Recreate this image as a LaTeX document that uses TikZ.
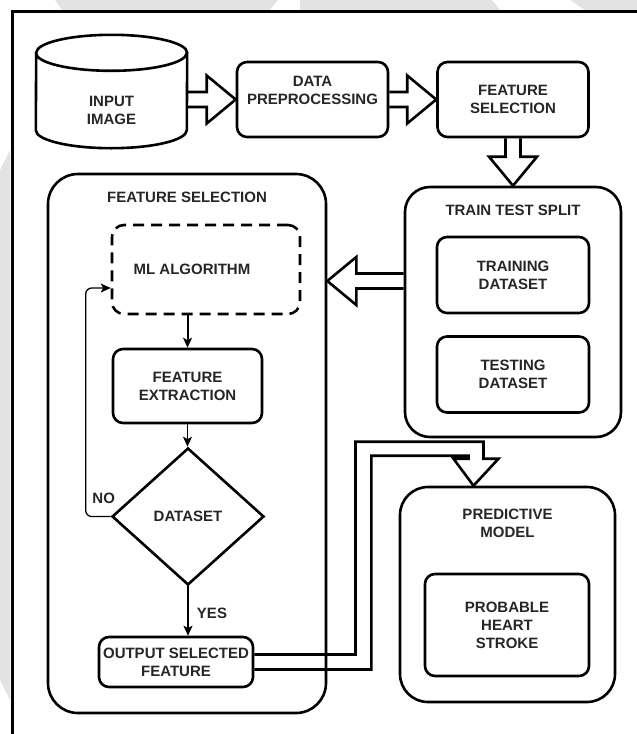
\documentclass[tikz,border=0pt]{standalone}
\usepackage{fontspec}
\setmainfont{Liberation Sans}
\usepackage{tikz}
\usetikzlibrary{shapes.geometric,arrows.meta,calc,positioning}

\tikzset{
	txt/.style={font=\fontsize{15}{18}\selectfont\bfseries, text=black!85, align=center},
	box/.style={draw, line width=2.6pt, rounded corners=10pt, inner sep=2pt, txt},
	dashbox/.style={draw, line width=2.6pt, rounded corners=12pt, dash pattern=on 11pt off 7pt},
	group/.style={draw, line width=2.6pt, rounded corners=28pt},
	title/.style={txt, anchor=center, yshift=-25pt},
	decision/.style={draw, diamond, line width=2.6pt, inner sep=0pt, txt},
	fat/.style={line width=2.6pt, line join=miter},
	flow/.style={-{Stealth[length=10pt, width=9pt, inset=2.5pt]}},
	rim/.style={x radius=75.5pt, y radius=18pt}
}

\begin{document}
\begin{tikzpicture}[x=1pt, y=-1pt]
	\newcommand\shw{7.5}  % half shaft of the block arrows
	\newcommand\hdw{24}   % half head
	\newcommand\hdl{29}   % head length

	\useasboundingbox (0,0) rectangle (637,734);

	% grey logo behind the page
	\fill[gray!22] (55,0) -- (278,0) -- (270,10) -- (62,10) -- cycle;
	\fill[gray!22] (300,0) -- (492,0) -- (500,10) -- (300,10) -- cycle;
	\fill[gray!22] (570,0) -- (637,0) -- (637,10) -- (585,10) -- cycle;
	\fill[gray!22] (0,170) -- (10,150) -- (10,700) -- (0,680) -- cycle;

	\draw[line width=3pt] (12,734) -- (12,11) -- (637,11);

	% top row
	\node[txt, minimum width=151pt, minimum height=76pt] (img) at (111.5,110) {INPUT\\IMAGE};
	\draw[line width=2.6pt] ($(img.south west)+(0,-18)$) arc[start angle=180, end angle=360, rim]
		-- ($(img.north east)+(0,-19)$) arc[start angle=0, end angle=180, rim] -- cycle
		($(img.north west)+(0,-19)$) arc[start angle=180, end angle=360, rim]; % drum
	\node[box, minimum width=151pt, minimum height=75pt] (prep) at (312.5,99.5) {DATA\\PREPROCESSING\\~};
	\node[box, minimum width=151pt, minimum height=75pt] (fsel) at (513,99.5) {FEATURE\\SELECTION};

	% split
	\node[group, rounded corners=25pt, minimum width=216pt, minimum height=250pt,
		label={[title]north:TRAIN TEST SPLIT}] (tts) at (513,312) {};
	\node[box, minimum width=152pt, minimum height=76pt] (train) at (513,275) {TRAINING\\DATASET};
	\node[box, minimum width=152pt, minimum height=76pt] (test) at (513,374.5) {TESTING\\DATASET};

	% selection loop
	\node[group, rounded corners=30pt, minimum width=278pt, minimum height=539pt,
		label={[title]north:FEATURE SELECTION}] (fs) at (187,443.5) {};
	\node[dashbox, minimum width=188pt, minimum height=89pt,
		label={[txt, xshift=-14pt]center:ML ALGORITHM}] (ml) at (206,269.5) {};
	\node[box, minimum width=149pt, minimum height=74pt] (fext) at (187.5,386) {FEATURE\\EXTRACTION};
	\node[decision, minimum width=152pt, minimum height=137pt] (dia) at (188,516.5) {DATASET};
	\node[box, minimum width=154pt, minimum height=50pt] (out) at (176,662) {OUTPUT SELECTED\\FEATURE};
	\node[txt] (no) at ($(dia.west)+(-7,-18)$) {NO};
	\node[txt] (yes) at ($(dia.south)+(24,27)$) {YES};

	% result
	\node[group, minimum width=215pt, minimum height=215pt,
		label={[title, yshift=-12.5pt]north:PREDICTIVE\\MODEL}] (pred) at (507.5,594.5) {};
	\node[box, minimum width=164pt, minimum height=102pt] (prob) at (507,625) {PROBABLE\\HEART\\STROKE};

	% block arrows
	\draw[fat] ($(img.east |- prep.west)+(0,-\shw)$) -- ($(prep.west)+(-\hdl,-\shw)$) -- ($(prep.west)+(-\hdl,-\hdw)$)
		-- (prep.west) -- ($(prep.west)+(-\hdl,\hdw)$) -- ($(prep.west)+(-\hdl,\shw)$) -- ($(img.east |- prep.west)+(0,\shw)$);
	\draw[fat] ($(prep.east)+(0,-\shw)$) -- ($(fsel.west)+(-\hdl,-\shw)$) -- ($(fsel.west)+(-\hdl,-\hdw)$)
		-- (fsel.west) -- ($(fsel.west)+(-\hdl,\hdw)$) -- ($(fsel.west)+(-\hdl,\shw)$) -- ($(prep.east)+(0,\shw)$);
	\draw[fat] ($(fsel.south)+(-\shw,0)$) -- ($(tts.north)+(-\shw,-\hdl)$) -- ($(tts.north)+(-\hdw,-\hdl)$)
		-- (tts.north) -- ($(tts.north)+(\hdw,-\hdl)$) -- ($(tts.north)+(\shw,-\hdl)$) -- ($(fsel.south)+(\shw,0)$);
	\coordinate (back) at ($(tts.west)+(0,-31)$);
	\draw[fat] ($(back)+(0,-\shw)$) -- ($(fs.east |- back)+(\hdl,-\shw)$) -- ($(fs.east |- back)+(\hdl,-\hdw)$)
		-- (fs.east |- back) -- ($(fs.east |- back)+(\hdl,\hdw)$) -- ($(fs.east |- back)+(\hdl,\shw)$) -- ($(back)+(0,\shw)$);

	% output to model, bent shaft
	\coordinate (tip) at ($(pred.north)+(-34,0)$);
	\draw[fat] ($(out.east)+(0,-\shw)$) -| ($(tip)+(-118,-44)$) -| ($(tip)+(10,-27)$) -- ++(15,0) -- (tip)
		-- ++(-20,-27) -- ++(15,0) -- ++(0,-3) -| ($(out.east)+(117,\shw)$) -- ($(out.east)+(0,\shw)$);

	% flow inside the selection
	\draw[flow, line width=2pt] (fext.north |- ml.south) -- (fext.north);
	\draw[flow, line width=1.3pt] (fext.south) -- (fext.south |- dia.north);
	\draw[flow, line width=1.3pt, rounded corners=6pt] (dia.west) -- ++(-25,0) |- ($(ml.west)+(0,18.5)$);
	\draw[flow, line width=2pt] (dia.south) -- (dia.south |- out.north);
\end{tikzpicture}
\end{document}
